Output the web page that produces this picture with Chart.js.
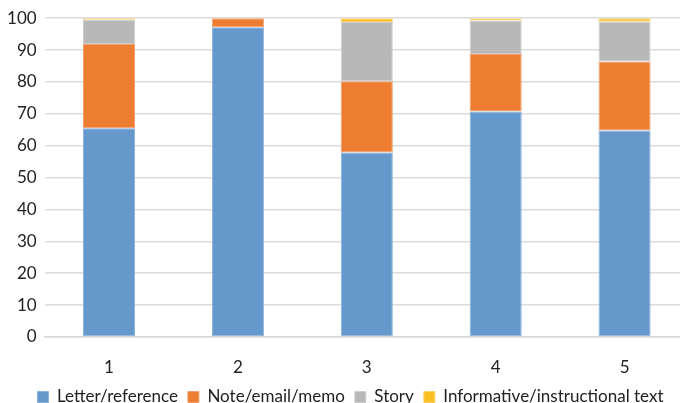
<!DOCTYPE html>
<html>
<head>
<meta charset="utf-8">
<script src="https://cdn.jsdelivr.net/npm/chart.js@4/dist/chart.umd.min.js"></script>
<style>
  html, body { margin: 0; padding: 0; background: #fff; overflow: hidden; }
  #wrap { width: 680px; height: 403px; overflow: hidden; position: relative; }
  canvas { display: block; }
</style>
</head>
<body>
<div id="wrap"><canvas id="c" width="689" height="403"></canvas></div>
<script>
const categories = ['1', '2', '3', '4', '5'];
const letterReference = [65.5, 97.2, 57.9, 70.7, 64.8];
const noteEmailMemo = [26.4, 2.8, 22.3, 18.1, 21.6];
const story = [7.6, 0, 18.6, 10.5, 12.5];
const informativeText = [0.5, 0, 1.2, 0.7, 1.1];
const yTicks = [0, 10, 20, 30, 40, 50, 60, 70, 80, 90, 100];

const FONT = 'Lato, "Open Sans", sans-serif';
const TEXT = '#222222';

function series(label, data, fill, edge) {
  return {
    label, data,
    backgroundColor: fill,
    borderColor: edge,
    borderWidth: 1,
    borderSkipped: false,
    barPercentage: 0.404,
    categoryPercentage: 1.0
  };
}

// nudge the legend row slightly right of the canvas centre
const legendNudge = {
  id: 'legendNudge',
  afterLayout(chart) {
    if (chart.legend) {
      chart.legend.left += 6;
      chart.legend.right += 6;
    }
  }
};

new Chart(document.getElementById('c'), {
  type: 'bar',
  data: {
    labels: categories,
    datasets: [
      series('Letter/reference', letterReference, '#6599CC', '#8AB2DA'),
      series('Note/email/memo', noteEmailMemo, '#ED7D31', '#F0A070'),
      series('Story', story, '#B8B8B8', '#CFCFCF'),
      series('Informative/instructional text', informativeText, '#FBBF24', '#FBD06A')
    ]
  },
  plugins: [legendNudge],
  options: {
    responsive: false,
    animation: false,
    layout: { padding: { top: 11, left: 0, right: 0, bottom: 0 } },
    plugins: {
      tooltip: { enabled: false },
      legend: {
        position: 'bottom',
        maxHeight: 24.5,
        labels: {
          font: { family: FONT, size: 17 },
          color: TEXT,
          boxWidth: 11,
          boxHeight: 11,
          padding: 10,
          useBorderRadius: false
        }
      }
    },
    scales: {
      x: {
        stacked: true,
        grid: { display: false },
        border: { color: '#D9D9D9', width: 1.5 },
        afterFit(scale) { scale.height = 41.5; },
        ticks: { font: { family: FONT, size: 17 }, color: TEXT, padding: 12 }
      },
      y: {
        stacked: true,
        min: 0, max: 100,
        afterFit(scale) { scale.width = 44.6; },
        afterBuildTicks(scale) { scale.ticks = yTicks.map(v => ({ value: v })); },
        grid: { color: '#DCDCDC', lineWidth: 1.5, drawTicks: false },
        border: { display: false },
        ticks: { font: { family: FONT, size: 17 }, color: TEXT, padding: 8 }
      }
    }
  }
});
</script>
</body>
</html>
